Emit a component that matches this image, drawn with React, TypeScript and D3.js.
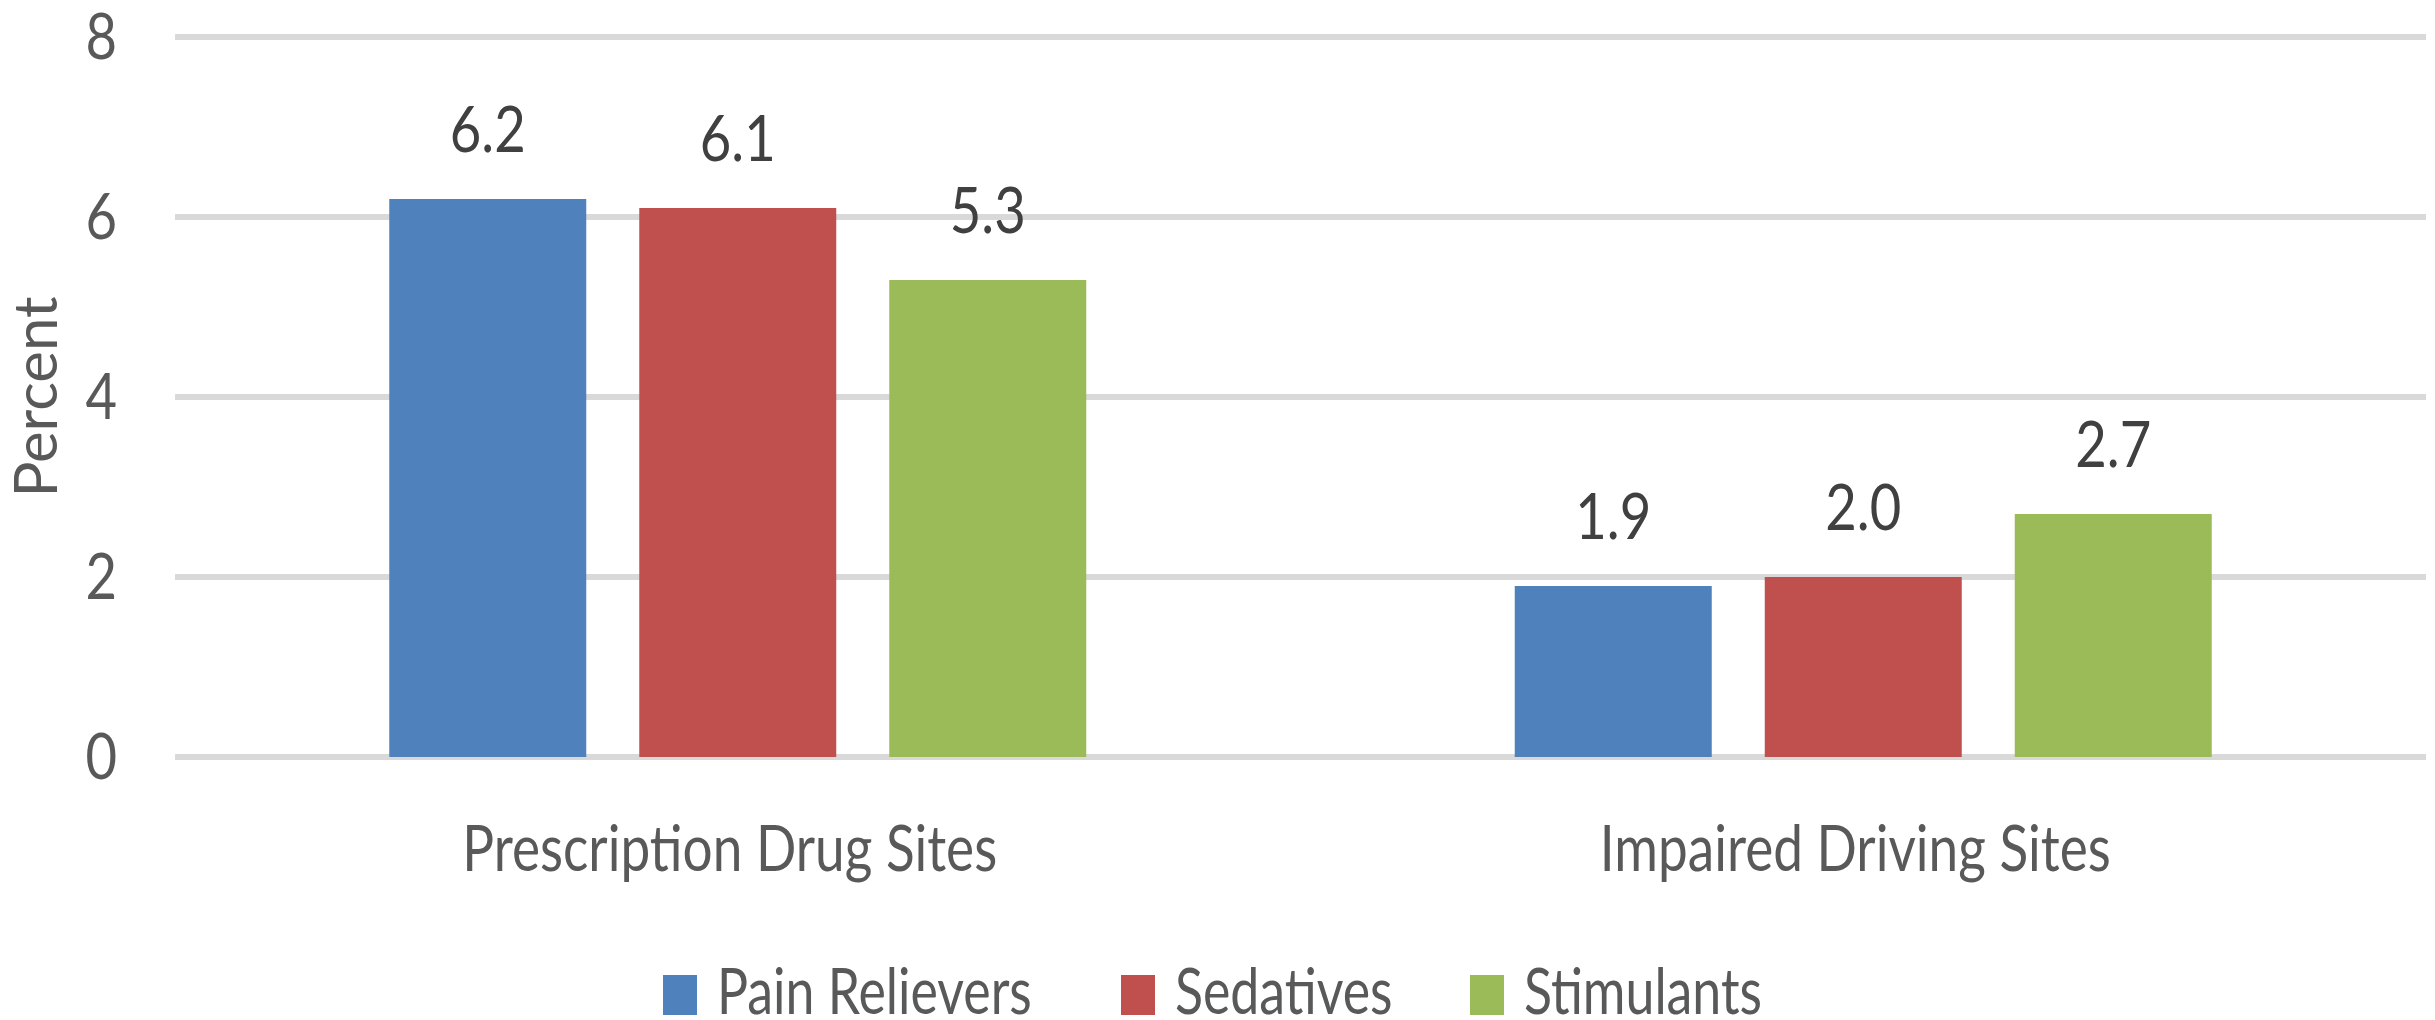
import React from "react";
import * as d3 from "d3";

const categories = ["Prescription Drug Sites", "Impaired Driving Sites"];
const seriesNames = ["Pain Relievers", "Sedatives", "Stimulants"];
const painRelievers = [6.2, 1.9];
const sedatives = [6.1, 2.0];
const stimulants = [5.3, 2.7];
const yTicks = [0, 2, 4, 6, 8];
const colors = ["#4f81bd", "#c0504d", "#9bbb59"];

const W = 2435;
const H = 1020;
const FONT = "Lato, 'Open Sans', sans-serif";

export default function App() {
  const seriesValues = [painRelievers, sedatives, stimulants];
  const y = d3.scaleLinear().domain([0, 8]).range([757, 37]);
  const x0 = d3.scaleBand<string>().domain(categories).range([175, 2426]).padding(0);
  const x1 = d3
    .scaleBand<string>()
    .domain(seriesNames)
    .range([-375, 375])
    .paddingInner(0.212)
    .paddingOuter(0.106);

  const T = (
    x: number,
    yy: number,
    text: string,
    size: number,
    fill: string,
    anchor: string,
    sx: number,
    key?: string,
    extra?: string
  ) => (
    <text
      key={key}
      transform={`translate(${x},${yy})${extra || ""} scale(${sx},1)`}
      fontFamily={FONT}
      fontSize={size}
      fill={fill}
      textAnchor={anchor}
    >
      {text}
    </text>
  );

  const legendX = [663, 1121, 1470];

  return (
    <svg
      width={W}
      height={H}
      style={{ position: "absolute", left: 0, top: 0, background: "#fff" }}
    >
      {yTicks.map((t) => (
        <line
          key={"g" + t}
          x1={175}
          x2={2426}
          y1={y(t)}
          y2={y(t)}
          stroke="#d9d9d9"
          strokeWidth={6}
        />
      ))}
      {yTicks.map((t) => T(117, y(t) + 22, String(t), 64, "#595959", "end", 0.85, "t" + t))}
      {T(57, 397, "Percent", 60, "#595959", "middle", 1.0, "yl", " rotate(-90)")}
      {categories.map((c, ci) => {
        const cx = (x0(c) as number) + x0.bandwidth() / 2;
        return (
          <g key={c}>
            {seriesNames.map((s, si) => {
              const v = seriesValues[si][ci];
              const bx = cx + (x1(s) as number);
              return (
                <g key={s}>
                  <rect
                    x={bx}
                    y={y(v)}
                    width={x1.bandwidth()}
                    height={y(0) - y(v)}
                    fill={colors[si]}
                  />
                  {T(bx + x1.bandwidth() / 2, y(v) - 47, v.toFixed(1), 64, "#404040", "middle", 0.85)}
                </g>
              );
            })}
            {T(cx - 8, 871, c, 64, "#595959", "middle", 0.83)}
          </g>
        );
      })}
      {seriesNames.map((s, i) => (
        <g key={"lg" + s}>
          <rect x={legendX[i]} y={975} width={34} height={40} fill={colors[i]} />
          {T(legendX[i] + 54, 1014, s, 64, "#595959", "start", 0.81)}
        </g>
      ))}
    </svg>
  );
}
